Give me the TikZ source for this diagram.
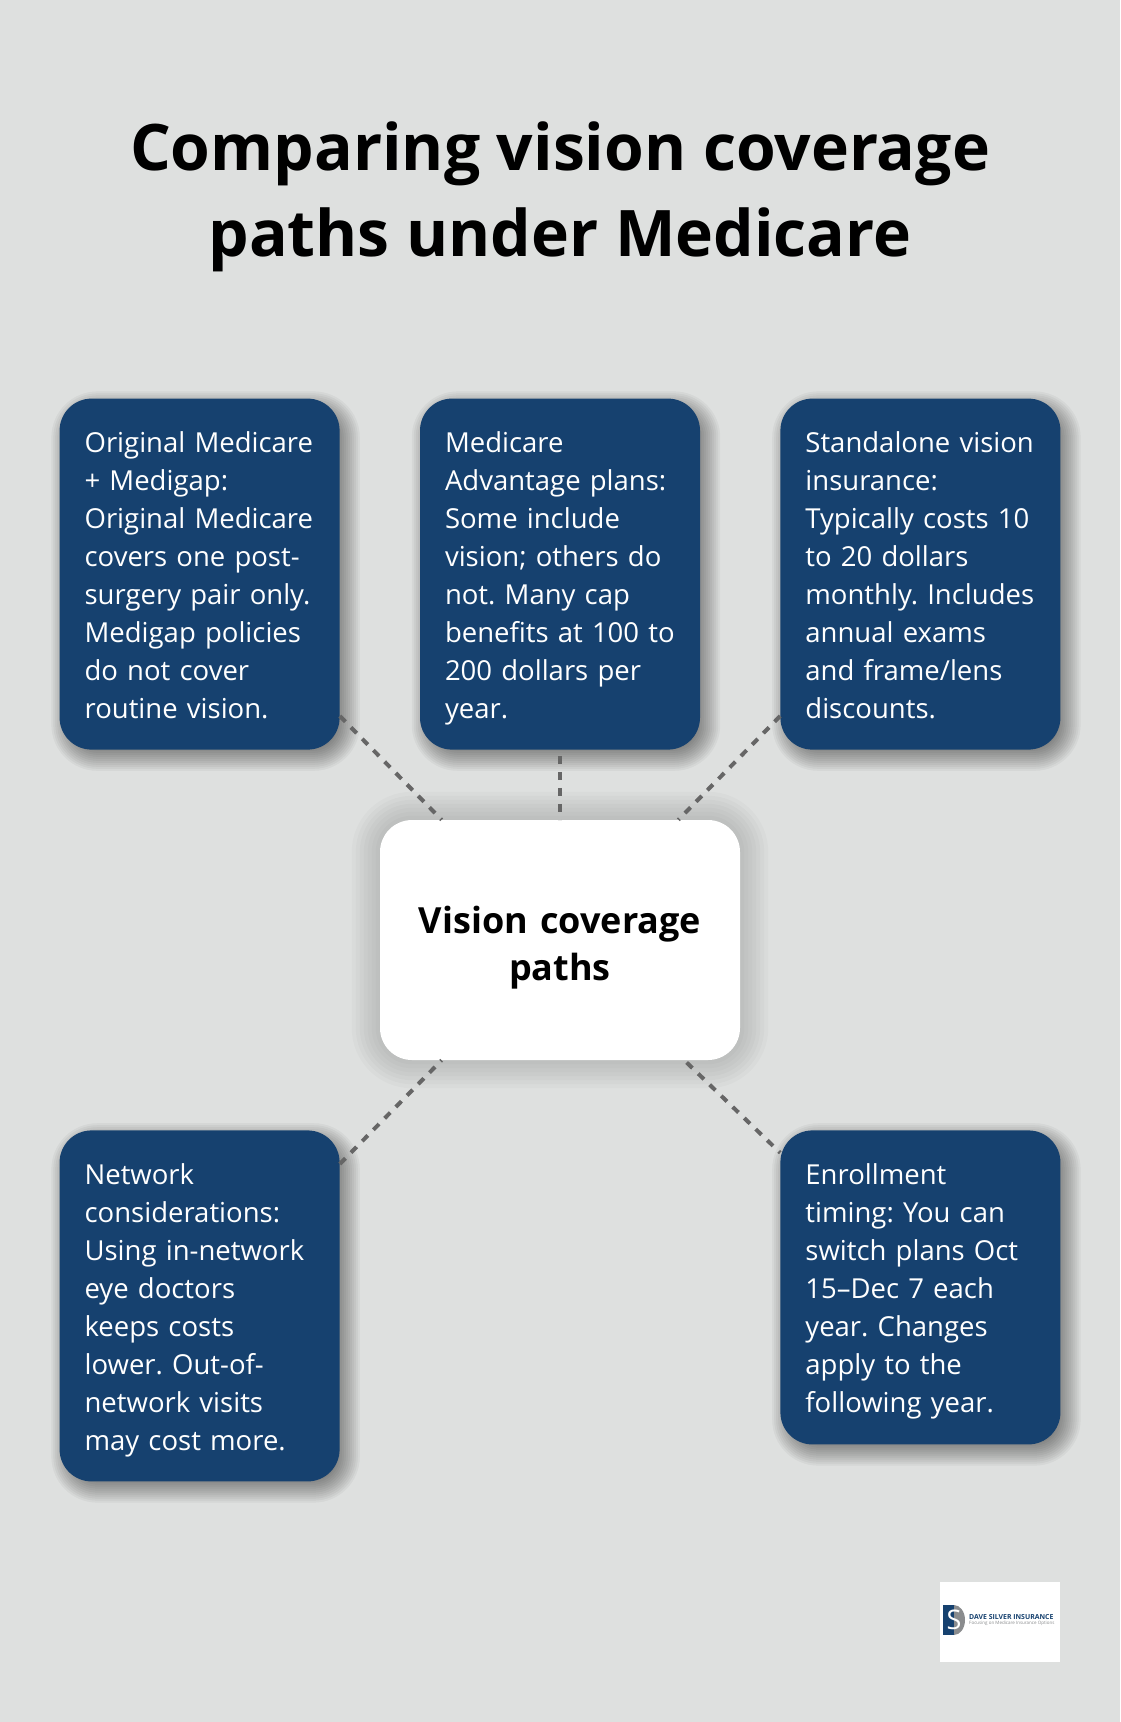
\documentclass[tikz,border=0pt]{standalone}
\usepackage{fontspec}
\setmainfont{Open Sans}
\usepackage{tikz}
\usetikzlibrary{positioning, calc, backgrounds}
\definecolor{pagegrey}{HTML}{DEE0DF}
\definecolor{cardblue}{HTML}{16416F}
\definecolor{dashgrey}{HTML}{666666}
\definecolor{logogrey}{HTML}{8A8C8E}
\frenchspacing
% stacked rectangles for a soft shadow: node, x offset, y offset, radii, opacity
\newcommand{\softshadow}[5]{%
  \foreach \r in {#4} {
    \pgfmathsetmacro{\cornerr}{max(4,32+\r)}
    \fill[black, opacity=#5, rounded corners=\cornerr pt]
      ($(#1.south west)+(#2-\r,#3-\r)$) rectangle ($(#1.north east)+(#2+\r,#3+\r)$);
  }
}

\begin{document}
\begin{tikzpicture}
  [x=1pt, y=1pt,
    title/.style ={
        font=\fontsize{64.2}{86}\selectfont\bfseries,
        align=center,
        text=black,
      },
    card/.style ={
        rectangle,
        fill=cardblue,
        text=white,
        rounded corners=32pt,
        minimum width=280pt,
        text width=230pt,
        align=left,
        inner sep=0pt,
        font=\fontsize{27.5}{38}\selectfont,
        execute at begin node={\leavevmode\strut},
        execute at end node={\strut\endgraf\vspace*{-7pt}},
      },
    hub/.style ={
        rectangle,
        fill=white,
        rounded corners=32pt,
        minimum width=360pt,
        minimum height=240pt,
        text width=320pt,
        inner sep=0pt,
        align=center,
        font=\fontsize{36}{47.5}\selectfont\bfseries,
        execute at begin node={\leavevmode\strut},
        execute at end node={\strut\endgraf\vspace*{-15pt}},
      },
    link/.style ={
        draw=dashgrey,
        line width=4pt,
        dash pattern=on 8pt off 8pt,
      },
  ]
  \useasboundingbox (0,0) rectangle (1120,-1722);

  \node[title] (heading) at (560,-196.5) {Comparing vision coverage\\paths under Medicare};

  \node[hub] (vision) at (560,-940) {Vision coverage\\paths};

  \node[card, minimum height=351pt, above=70pt of vision] (advantage) {Medicare\\Advantage plans:\\Some include\\vision; others do\\not. Many cap\\\mbox{benefits at 100 to}\\200 dollars per\\year.};
  \node[card, minimum height=351pt, left=80pt of advantage] (medigap) {Original Medicare\\+ Medigap:\\Original Medicare\\covers one post-\\surgery pair only.\\Medigap policies\\do not cover\\routine vision.};
  \node[card, minimum height=351pt, right=80pt of advantage] (standalone) {\mbox{Standalone vision}\\insurance:\\\mbox{Typically costs 10}\\to 20 dollars\\\mbox{monthly. Includes}\\annual exams\\and frame/lens\\discounts.};

  \node[card, minimum height=351pt, below left=70pt and 40pt of vision] (network) {Network\\considerations:\\Using in-network\\eye doctors\\keeps costs\\lower. Out-of-\\network visits\\may cost more.};
  \node[card, minimum height=314pt, below right=70pt and 40pt of vision] (timing) {Enrollment\\timing: You can\\switch plans Oct\\15--Dec 7 each\\year. Changes\\apply to the\\following year.};

  \begin{scope}[on background layer]
    \fill[pagegrey] (0,0) rectangle (1120,-1722);
    \softshadow{vision}{0}{0}{-24,-20,...,28}{0.02}
    \foreach \c in {medigap, advantage, standalone, network, timing} {
      \softshadow{\c}{6}{-7}{-14,-12,...,14}{0.04}
    }
  \end{scope}

  \draw[link] (medigap) -- (vision);
  \draw[link, dash phase=10pt] (advantage) -- (vision);
  \draw[link] (standalone) -- (vision);
  \draw[link] (network) -- (vision);
  \draw[link, dash phase=6pt] (timing) -- (vision);

  % logo
  \node[fill=white, minimum width=120pt, minimum height=80pt, inner sep=0pt] (logo) at (1000,-1622) {};
  \fill[logogrey] (954,-1605) arc (90:-90:11pt and 15pt) -- cycle;
  \fill[cardblue] (943,-1605) rectangle (954,-1635);
  \node[text=white, inner sep=0pt, font=\fontsize{27}{27}\selectfont] (logoS) at (954,-1620) {S};
  \node[anchor=west, inner sep=0pt, text=cardblue, font=\fontsize{6.9}{7}\selectfont\bfseries] (logoname) at (969,-1617) {DAVE SILVER INSURANCE};
  \node[below=1.5pt of logoname.south west, anchor=north west, inner sep=0pt, text=logogrey, font=\fontsize{4.5}{5}\selectfont] (logotag) {Focusing on Medicare Insurance Options};
\end{tikzpicture}
\end{document}
